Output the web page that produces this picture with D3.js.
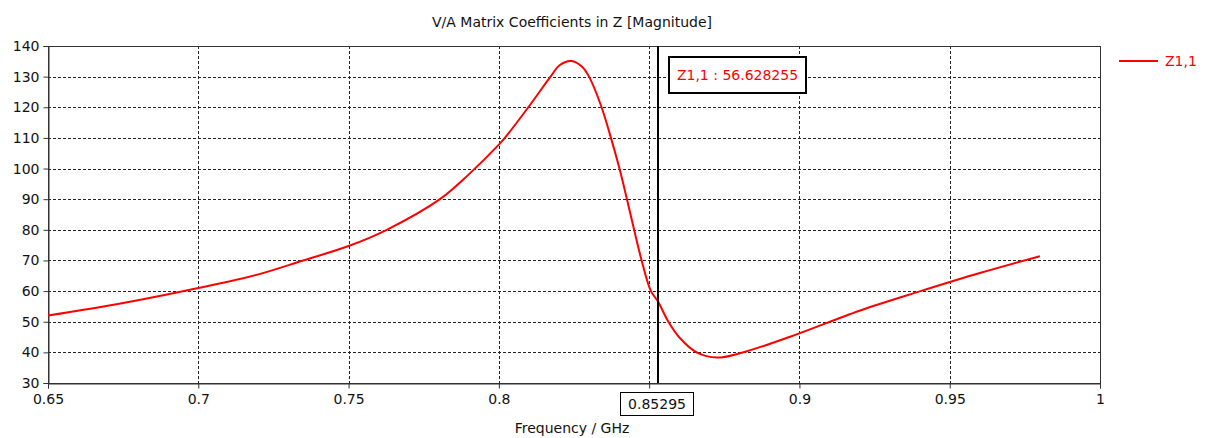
<!DOCTYPE html>
<html><head><meta charset="utf-8">
<script src="https://cdn.jsdelivr.net/npm/d3@7"></script>
<style>body{margin:0;background:#fff}svg text{font-family:"DejaVu Sans",sans-serif}</style>
</head><body><svg id="c" width="1208" height="438"></svg>
<script>
const freq = [0.65,0.675,0.70,0.7194,0.7349,0.75,0.7627,0.7804,0.79,0.80,0.802,0.8098,0.8172,0.8203,0.8242,0.8276,0.8300,0.8340,0.8370,0.8400,0.8425,0.8450,0.8475,0.8506,0.85295,0.8564,0.8603,0.8658,0.8725,0.8802,0.8969,0.92,0.94,0.96,0.98];
const mag  = [52.0,56.1,61.0,65.3,70.0,74.7,80.0,90.0,98.1,107.8,110,120,130,133.8,135.1,133.3,130,120.5,111,100.5,90.5,80,70,60,56.628255,50,44.6,40,38.3,39.7,45.1,53.6,59.9,65.9,71.4];
const xTicks = [0.65,0.7,0.75,0.8,0.85,0.9,0.95,1];
const yTicks = [30,40,50,60,70,80,90,100,110,120,130,140];
const markerF = 0.85295, markerLabel = "Z1,1 : 56.628255", markerTick = "0.85295";
const seriesName = "Z1,1";

const svg = d3.select("#c");
const L=48,R=1100,T=46,B=383;
const FS=14;
const x = d3.scaleLinear().domain([0.65,1]).range([L,R]);
const y = d3.scaleLinear().domain([30,140]).range([B,T]);

// grid
const g = svg.append("g");
g.selectAll(".gx").data(xTicks.filter(d=>d>0.65&&d<1)).enter().append("line")
 .attr("x1",d=>Math.round(x(d))+0.5).attr("x2",d=>Math.round(x(d))+0.5).attr("y1",T).attr("y2",B)
 .attr("stroke","#222").attr("stroke-dasharray","3,2");
g.selectAll(".gy").data(yTicks.filter(d=>d>30&&d<140)).enter().append("line")
 .attr("y1",d=>Math.round(y(d))+0.5).attr("y2",d=>Math.round(y(d))+0.5).attr("x1",L).attr("x2",R)
 .attr("stroke","#222").attr("stroke-dasharray","3,2");

// frame
svg.append("rect").attr("x",L+0.5).attr("y",T+0.5).attr("width",R-L).attr("height",B-T)
 .attr("fill","none").attr("stroke","#333").attr("stroke-width",1);

// axes
const ax = svg.append("g").attr("transform",`translate(0,${B+0.5})`)
 .call(d3.axisBottom(x).tickValues(xTicks).tickSize(5).tickPadding(6).tickFormat(d=>d===0.85?"":d3.format("")(d)));
const ay = svg.append("g").attr("transform",`translate(${L+0.5},0)`)
 .call(d3.axisLeft(y).tickValues(yTicks).tickSize(5).tickPadding(3).tickFormat(d3.format("d")));
[ax,ay].forEach(a=>{a.select(".domain").attr("stroke","#333");a.selectAll(".tick line").attr("stroke","#333");
 a.selectAll("text").attr("font-size",FS).attr("fill","#111").attr("font-family","DejaVu Sans");});
ay.selectAll(".tick text").attr("dx",-1);

// curve
const pts = freq.map((f,i)=>[f,mag[i]]);
svg.append("path").datum(pts).attr("fill","none").attr("stroke","#ff0000").attr("stroke-width",2)
 .attr("d",d3.line().x(d=>x(d[0])).y(d=>y(d[1])).curve(d3.curveCatmullRom.alpha(0.5)));

// marker
const mx = Math.round(x(markerF));
svg.append("line").attr("x1",mx).attr("x2",mx).attr("y1",T).attr("y2",B).attr("stroke","#000").attr("stroke-width",2);
const lbl = svg.append("g");
lbl.append("rect").attr("x",669).attr("y",57).attr("width",137).attr("height",36).attr("fill","#fff").attr("stroke","#000").attr("stroke-width",2);
lbl.append("text").attr("x",737.5).attr("y",75.5).attr("text-anchor","middle").attr("dominant-baseline","middle")
 .attr("font-size",FS).attr("fill","#ff0000").text(markerLabel);
const bt = svg.append("g");
bt.append("rect").attr("x",620.5).attr("y",392.5).attr("width",73).attr("height",23).attr("fill","#fff").attr("stroke","#000");
bt.append("text").attr("x",657).attr("y",404.5).attr("text-anchor","middle").attr("dominant-baseline","middle")
 .attr("font-size",FS).attr("fill","#111").text(markerTick);

// titles
svg.append("text").attr("x",572).attr("y",23).attr("text-anchor","middle").attr("dominant-baseline","middle")
 .attr("font-size",FS).attr("fill","#111").text("V/A Matrix Coefficients in Z [Magnitude]");
svg.append("text").attr("x",572).attr("y",429).attr("text-anchor","middle").attr("dominant-baseline","middle")
 .attr("font-size",FS).attr("fill","#111").text("Frequency / GHz");

// legend
svg.append("line").attr("x1",1119).attr("x2",1158).attr("y1",61).attr("y2",61).attr("stroke","#ff0000").attr("stroke-width",2);
svg.append("text").attr("x",1165).attr("y",62).attr("dominant-baseline","middle").attr("font-size",FS).attr("fill","#ff0000").text(seriesName);
</script></body></html>
